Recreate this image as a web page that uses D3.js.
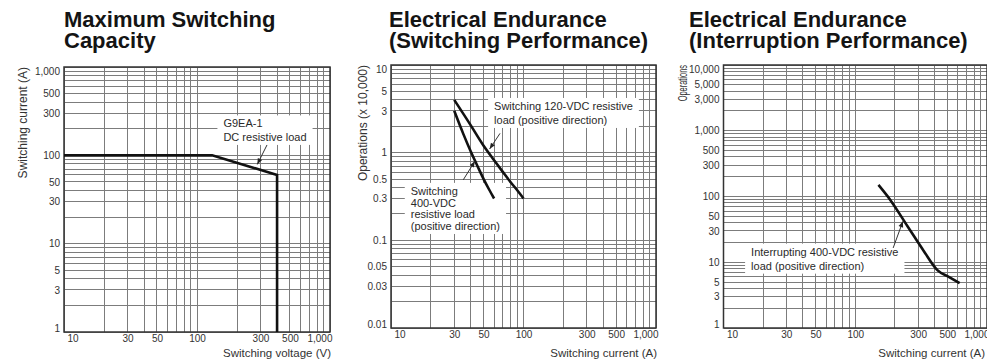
<!DOCTYPE html>
<html><head><meta charset="utf-8">
<script src="https://cdn.jsdelivr.net/npm/d3@7"></script>
<style>
html,body{margin:0;padding:0;background:#fff;}
svg{display:block;font-family:"Liberation Sans",Arial,Helvetica,sans-serif;}
</style></head><body>
<svg id="chart" width="987" height="362"></svg>
<script>
// ---------- data ----------
const xTickValues = [10, 30, 50, 100, 300, 500, 1000];
const xTickLabels = ["10", "30", "50", "100", "300", "500", "1,000"];

const capYTickValues = [1, 3, 5, 10, 30, 50, 100, 300, 500, 1000];
const capYTickLabels = ["1", "3", "5", "10", "30", "50", "100", "300", "500", "1,000"];
const capVoltage = [10, 130, 400, 400];
const capCurrent = [100, 100, 60, 1];

const swYTickValues = [0.01, 0.03, 0.05, 0.1, 0.3, 0.5, 1, 3, 5, 10];
const swYTickLabels = ["0.01", "0.03", "0.05", "0.1", "0.3", "0.5", "1", "3", "5", "10"];
const sw120Current = [30, 40, 50, 60, 70, 80, 90, 100];
const sw120Ops = [4, 2.05, 1.2, 0.82, 0.6, 0.46, 0.37, 0.3];
const sw400Current = [30, 35, 40, 45, 50, 55, 60];
const sw400Ops = [3, 1.66, 1.03, 0.7, 0.5, 0.38, 0.3];

const intYTickValues = [1, 3, 5, 10, 30, 50, 100, 300, 500, 1000, 3000, 5000, 10000];
const intYTickLabels = ["1", "3", "5", "10", "30", "50", "100", "300", "500", "1,000", "3,000", "5,000", "10,000"];
const intCurrent = [150, 185, 250, 330, 420, 520, 620];
const intOps = [150, 88, 35, 15, 7.6, 5.9, 4.8];

const titles = [["Maximum Switching", "Capacity"], ["Electrical Endurance", "(Switching Performance)"], ["Electrical Endurance", "(Interruption Performance)"]];
const xTitles = ["Switching voltage (V)", "Switching current (A)", "Switching current (A)"];
const yTitles = ["Switching current (A)", "Operations (x 10,000)", "Operations"];

const capNote = ["G9EA-1", "DC resistive load"];
const sw120Note = ["Switching 120-VDC resistive", "load (positive direction)"];
const sw400Note = ["Switching", "400-VDC", "resistive load", "(positive direction)"];
const intNote = ["Interrupting 400-VDC resistive", "load (positive direction)"];

// ---------- layout ----------
const panels = [
  { left: 64, right: 330, top: 67, bottom: 332, titleX: 64, yTitleX: 27, yTitleScale: 1, xTitleEnd: 331,
    yDomain: [1, 1000], yVals: capYTickValues, yLabs: capYTickLabels,
    series: [{ x: capVoltage, y: capCurrent, curve: d3.curveLinear }],
    notes: [{ lines: capNote, at: [158, 207], lh: 13.5, lead: [[336, 131], [284, 79]] }] },
  { left: 391, right: 656, top: 65, bottom: 328, titleX: 389, yTitleX: 367, yTitleScale: 1, xTitleEnd: 657,
    yDomain: [0.01, 10], yVals: swYTickValues, yLabs: swYTickLabels,
    series: [{ x: sw120Current, y: sw120Ops, curve: d3.curveMonotoneX },
             { x: sw400Current, y: sw400Ops, curve: d3.curveMonotoneX }],
    notes: [{ lines: sw120Note, at: [60, 3.07], lh: 14, lead: [[66.5, 1.66], [55.5, 1.1]] },
            { lines: sw400Note, at: [14.1, 0.33], lh: 11.7, lead: [[35.1, 0.49], [43, 0.8]] }] },
  { left: 723.5, right: 987, top: 65, bottom: 328, titleX: 689, yTitleX: 687, yTitleScale: 0.62, xTitleEnd: 985,
    yDomain: [1, 10000], yVals: intYTickValues, yLabs: intYTickLabels,
    series: [{ x: intCurrent, y: intOps, curve: d3.curveMonotoneX }],
    notes: [{ lines: intNote, at: [16.2, 12.6], lh: 14, lead: [[194, 16.5], [230, 42]] }] }
];

const svg = d3.select("#chart");
const defs = svg.append("defs");
defs.append("marker").attr("id", "arr").attr("viewBox", "0 0 10 10")
  .attr("refX", 10).attr("refY", 5).attr("markerWidth", 7).attr("markerHeight", 6)
  .attr("markerUnits", "userSpaceOnUse").attr("orient", "auto")
  .append("path").attr("d", "M0,1 L10,5 L0,9 z").attr("fill", "#222");

function gridVals(lo, hi) {
  const v = [];
  for (let e = Math.floor(Math.log10(lo)); e <= Math.ceil(Math.log10(hi)); e++) {
    for (let m = 1; m < 10; m++) {
      const x = +(m * Math.pow(10, e)).toPrecision(6);
      if (x >= lo * 0.999 && x <= hi * 1.001) v.push(x);
    }
  }
  return v;
}

panels.forEach((p, i) => {
  const x = d3.scaleLog().domain([10, 1000]).range([p.left, p.right]);
  const y = d3.scaleLog().domain(p.yDomain).range([p.bottom, p.top]);
  const g = svg.append("g");

  // title
  const t = g.append("text").attr("x", p.titleX).attr("y", 27)
    .attr("font-size", 22).attr("font-weight", "bold").attr("fill", "#141414");
  titles[i].forEach((ln, k) => t.append("tspan").attr("x", p.titleX).attr("dy", k ? 21 : 0).text(ln));

  // grid
  const grid = g.append("g").attr("stroke", "#7c7c7c").attr("stroke-width", 1).attr("shape-rendering", "crispEdges");
  grid.selectAll(".v").data(gridVals(10, 1000)).join("line")
    .attr("x1", d => x(d)).attr("x2", d => x(d)).attr("y1", p.top).attr("y2", p.bottom);
  grid.selectAll(".h").data(gridVals(p.yDomain[0], p.yDomain[1])).join("line")
    .attr("y1", d => y(d)).attr("y2", d => y(d)).attr("x1", p.left).attr("x2", p.right);

  const boxes = g.append("g");
  // border
  g.append("rect").attr("x", p.left).attr("y", p.top).attr("width", p.right - p.left).attr("height", p.bottom - p.top)
    .attr("fill", "none").attr("stroke", "#333").attr("stroke-width", 1.5);

  // axes
  const ax = g.append("g").attr("transform", `translate(0,${p.bottom})`)
    .call(d3.axisBottom(x).tickValues(xTickValues).tickFormat((d, k) => xTickLabels[k]).tickSize(0).tickPadding(3));
  ax.select(".domain").remove();
  ax.attr("font-size", 10).attr("font-family", null);
  ax.selectAll("text").attr("fill", "#333");
  const xt = ax.selectAll("text").nodes();
  d3.select(xt[0]).attr("text-anchor", "start").attr("dx", 3);
  d3.select(xt[xt.length - 1]).attr("text-anchor", "end").attr("dx", 2);

  const ay = g.append("g").attr("transform", `translate(${p.left},0)`)
    .call(d3.axisLeft(y).tickValues(p.yVals).tickFormat((d, k) => p.yLabs[k]).tickSize(0).tickPadding(4));
  ay.select(".domain").remove();
  ay.attr("font-size", 10).attr("font-family", null);
  ay.selectAll("text").attr("fill", "#333");
  const yt = ay.selectAll("text").nodes();
  d3.select(yt[0]).attr("dy", "-0.05em");
  d3.select(yt[yt.length - 1]).attr("dy", "0.7em");

  // axis titles
  g.append("text").attr("x", p.xTitleEnd).attr("y", 357).attr("text-anchor", "end")
    .attr("font-size", 11.5).attr("fill", "#333").text(xTitles[i]);
  g.append("text").attr("transform", `translate(${p.yTitleX},${p.top}) rotate(-90) scale(${p.yTitleScale},1)`)
    .attr("text-anchor", "end").attr("font-size", 12).attr("fill", "#333").text(yTitles[i]);

  // curves
  p.series.forEach(s => {
    const pts = s.x.map((v, k) => [v, s.y[k]]);
    g.append("path").datum(pts)
      .attr("d", d3.line().x(d => x(d[0])).y(d => y(d[1])).curve(s.curve))
      .attr("fill", "none").attr("stroke", "#111").attr("stroke-width", 2.6).attr("stroke-linejoin", "miter");
  });

  // notes
  p.notes.forEach(n => {
    const tx = g.append("text").attr("font-size", 11).attr("fill", "#2a2a2a");
    n.lines.forEach((ln, k) => tx.append("tspan").attr("x", x(n.at[0])).attr("y", y(n.at[1]) + k * n.lh).text(ln));
    const bb = tx.node().getBBox();
    boxes.append("rect").attr("x", bb.x - 6).attr("y", bb.y - 2).attr("width", bb.width + 12).attr("height", bb.height + 4)
      .attr("fill", "#fff");
    g.append("line").attr("x1", x(n.lead[0][0])).attr("y1", y(n.lead[0][1]))
      .attr("x2", x(n.lead[1][0])).attr("y2", y(n.lead[1][1]))
      .attr("stroke", "#333").attr("stroke-width", 1).attr("marker-end", "url(#arr)");
  });
});
</script></body></html>
